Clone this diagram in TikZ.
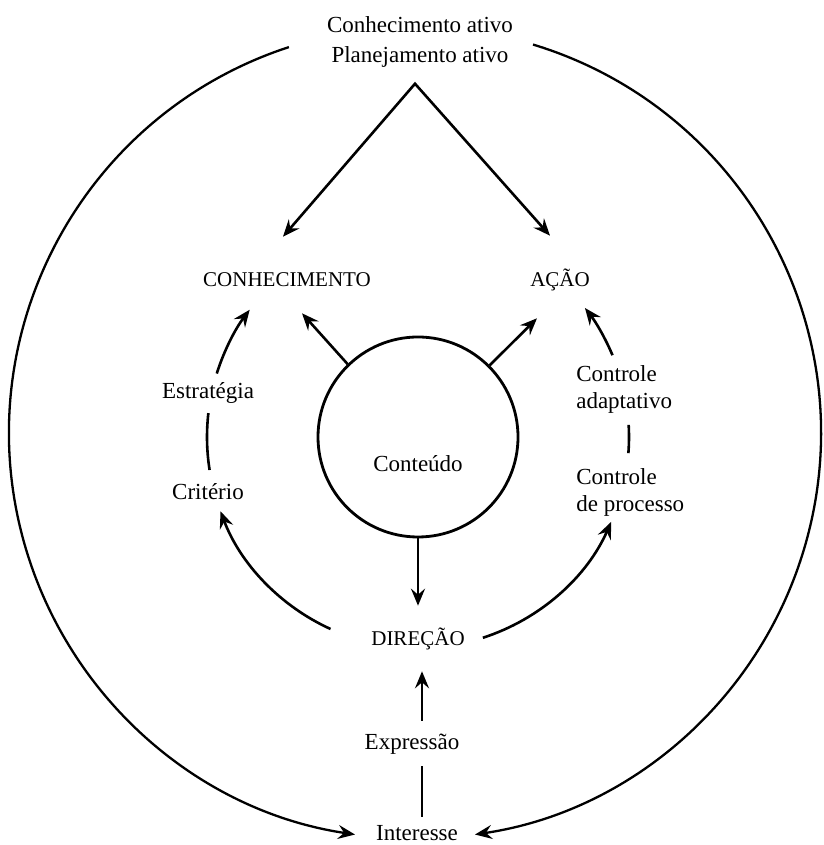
\documentclass[tikz,border=0pt]{standalone}
\usepackage{fontspec}
\setmainfont{Liberation Serif}
\usetikzlibrary{arrows.meta}

\begin{document}
\begin{tikzpicture} [x=1pt, y=1pt, line width=2.6pt, >={Stealth[length=17pt,width=14pt,inset=6pt]},
	lbl/.style={inner sep=0pt, font=\fontsize{23}{30}\selectfont},
	one/.style={lbl, text height=14pt, text depth=4pt, anchor=base},
	caps/.style={one, font=\fontsize{21}{30}\selectfont}]
	\useasboundingbox (0,0) rectangle (823,845);
	\coordinate (C) at (418,408);
	\coordinate (O) at (415,412);
	% textos
	\node [lbl, align=center] (top) at (420,803) {Conhecimento ativo\\Planejamento ativo};
	\node [caps] (conh) at (287,558) {CONHECIMENTO};
	\node [caps] (acao) at (560,558) {AÇÃO};
	\node [one] (estr) at (208,446) {Estratégia};
	\node [one] (crit) at (208,345) {Critério};
	\node [lbl, align=left, anchor=west, font=\fontsize{23}{27}\selectfont] (cadapt) at (575,456) {Controle\\adaptativo};
	\node [lbl, align=left, anchor=west, font=\fontsize{23}{27}\selectfont] (cproc) at (575,353) {Controle\\de processo};
	\node [circle, draw, minimum size=200pt, inner sep=0pt, line width=2.8pt] (cont) at (C) {};
	\node [one] (conteudo) at (418,373) {Conteúdo};
	\node [caps] (dir) at (418,199) {DIREÇÃO};
	\node [one] (expr) at (412,95) {Expressão};
	\node [one] (inter) at (417,5) {Interesse};
	% setas
	\draw [<->] ([shift={(-4,35)}]conh.north) -- ([shift={(-5,-15)}]top.south) -- ([shift={(-10,36)}]acao.north);
	\draw [->] (cont.134) -- ([shift={(15,-21)}]conh.south);
	\draw [->] (cont.45) -- ([shift={(-23,-26)}]acao.south);
	\draw [->] (cont.south) -- ([yshift=25pt]dir.north);
	\draw [->] ([shift={(10,14)}]expr.north) -- ([shift={(4,-20)}]dir.south);
	\draw ([shift={(10,-11)}]expr.south) -- ([shift={(5,8)}]inter.north);
	% arcos internos
	\draw [->] ([shift={(245.5:211)}]C) arc [start angle=245.5, end angle=200.6, radius=211];
	\draw ([shift={(173.5:211)}]C) arc [start angle=173.5, end angle=189, radius=211];
	\draw [->] ([shift={(162.5:211)}]C) arc [start angle=162.5, end angle=142.9, radius=211];
	\draw [->] ([shift={(-72.1:211)}]C) arc [start angle=-72.1, end angle=-23.7, radius=211];
	\draw ([shift={(3.3:211)}]C) arc [start angle=3.3, end angle=-4.4, radius=211];
	\draw [->] ([shift={(22.8:211)}]C) arc [start angle=22.8, end angle=37.7, radius=211];
	% arcos externos
	\draw [->, line width=2.3pt] ([shift={(108.1:406)}]O) arc [start angle=108.1, end angle=261.5, radius=406];
	\draw [->, line width=2.3pt] ([shift={(73.1:406)}]O) arc [start angle=73.1, end angle=-81.5, radius=406];
\end{tikzpicture}
\end{document}
